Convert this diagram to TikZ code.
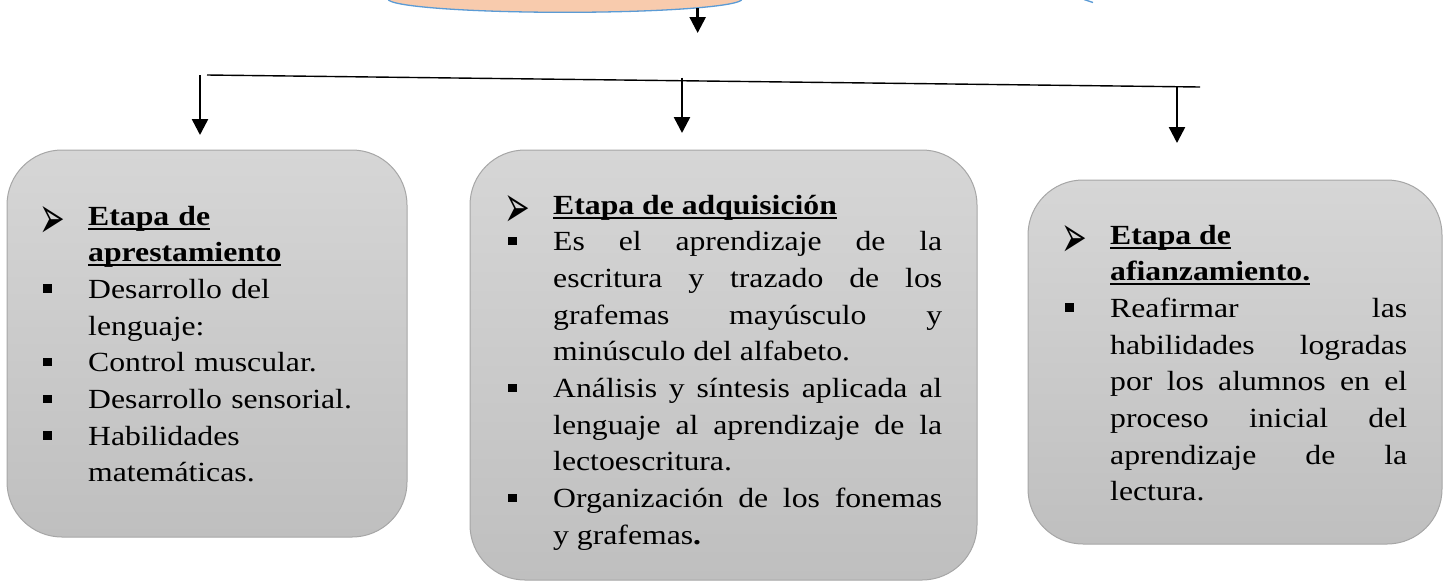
\documentclass[tikz,border=0pt]{standalone}
\usepackage{fontspec}
\setmainfont{Liberation Serif}[FakeStretch=1.145]
\newfontfamily\simbolos{DejaVu Sans}
\usetikzlibrary{arrows.meta,shapes.geometric}

\definecolor{naranja}{HTML}{F8CBAD}
\definecolor{azul}{HTML}{5B9BD5}
\definecolor{grisclaro}{HTML}{D6D6D6}
\definecolor{grisoscuro}{HTML}{BFBFBF}
\definecolor{grisborde}{HTML}{A6A6A6}

\tolerance=10000
\hyphenpenalty=10000
\exhyphenpenalty=10000

\newsavebox{\cajasub}
\newcommand{\subrayado}[1]{\sbox{\cajasub}{#1}\rlap{\rule[-4.5pt]{\wd\cajasub}{2pt}}\usebox{\cajasub}}
\newcommand{\flechita}{\makebox[45pt][l]{\hspace{-4pt}\raisebox{-13pt}{\resizebox{25.7pt}{32pt}{\simbolos ➢}}}}
\newcommand{\cuadrito}{\makebox[45pt][l]{\rule[5.6pt]{8.4pt}{8.4pt}}}
\newcommand{\etapa}[1]{\noindent\hangindent=45pt\hangafter=1\flechita\textbf{#1}}
\newcommand{\punto}[1]{\par\noindent\hangindent=45pt\hangafter=1\cuadrito#1}

\begin{document}
\begin{tikzpicture}
[x=1pt, y=-1pt,
 etapabox/.style={rectangle, draw=grisborde, line width=1pt, rounded corners=55pt,
  top color=grisclaro, bottom color=grisoscuro},
 texto/.style={anchor=base west, inner sep=0pt, font=\fontsize{27.7}{36.7}\selectfont},
 flecha/.style={line width=2.5pt, -{Triangle[width=16pt,length=16pt]}}]
  \useasboundingbox (0,0) rectangle (1447,582);
  \node[ellipse, draw=azul, line width=1.3pt, fill=naranja, minimum width=354pt,
    minimum height=26.6pt, inner sep=0pt] (titulo) at (565,-1) {};
  \draw[azul, line width=1.3pt] (1084,-0.5) -- (1093,2.5);

  \node[etapabox, minimum width=400pt, minimum height=387pt] (apresta) at (207,343.5) {};
  \node[etapabox, minimum width=507pt, minimum height=430pt] (adquis) at (723.5,365) {};
  \node[etapabox, minimum width=414pt, minimum height=364pt] (afianza) at (1235,362) {};

  \node[texto, text width=335pt, align=left] (txtapresta) at (43,225) {%
    \etapa{\subrayado{Etapa de}\newline\subrayado{aprestamiento}}
    \punto{Desarrollo del\newline lenguaje:}
    \punto{Control muscular.}
    \punto{Desarrollo sensorial.}
    \punto{Habilidades\newline matemáticas.}\par};
  \node[texto, text width=434pt, align=justify] (txtadquis) at (508,214) {%
    \etapa{\subrayado{Etapa de adquisición}}
    \punto{Es el aprendizaje de la\linebreak escritura y trazado de los\linebreak
      grafemas mayúsculo y\linebreak minúsculo del alfabeto.}
    \punto{Análisis y síntesis aplicada al\linebreak lenguaje al aprendizaje de la\linebreak
      lectoescritura.}
    \punto{Organización de los fonemas\linebreak y grafemas\textbf{.}}\par};
  \node[texto, text width=342pt, align=justify] (txtafianza) at (1065,244) {%
    \etapa{\subrayado{Etapa de}\newline\subrayado{afianzamiento.}}
    \punto{Reafirmar las\linebreak habilidades logradas\linebreak por los alumnos en el\linebreak
      proceso inicial del\linebreak aprendizaje de la\linebreak lectura.}\par};

  \coordinate (lleg0) at (692,33);
  \coordinate (izq) at (207,75);
  \coordinate (der) at (1200,87);
  \coordinate (sal1) at (200,75);
  \coordinate (lleg1) at (200,135);
  \coordinate (sal2) at (682,77.5);
  \coordinate (lleg2) at (682,133);
  \coordinate (sal3) at (1177,87);
  \coordinate (lleg3) at (1177,143);

  \draw[flecha] (titulo.-4.4) -- (titulo.-4.4 |- lleg0);
  \draw[line width=1.4pt] (izq) -- (der);
  \draw[flecha] (sal1) -- (lleg1);
  \draw[flecha] (sal2) -- (lleg2);
  \draw[flecha] (sal3) -- (lleg3);
\end{tikzpicture}
\end{document}
